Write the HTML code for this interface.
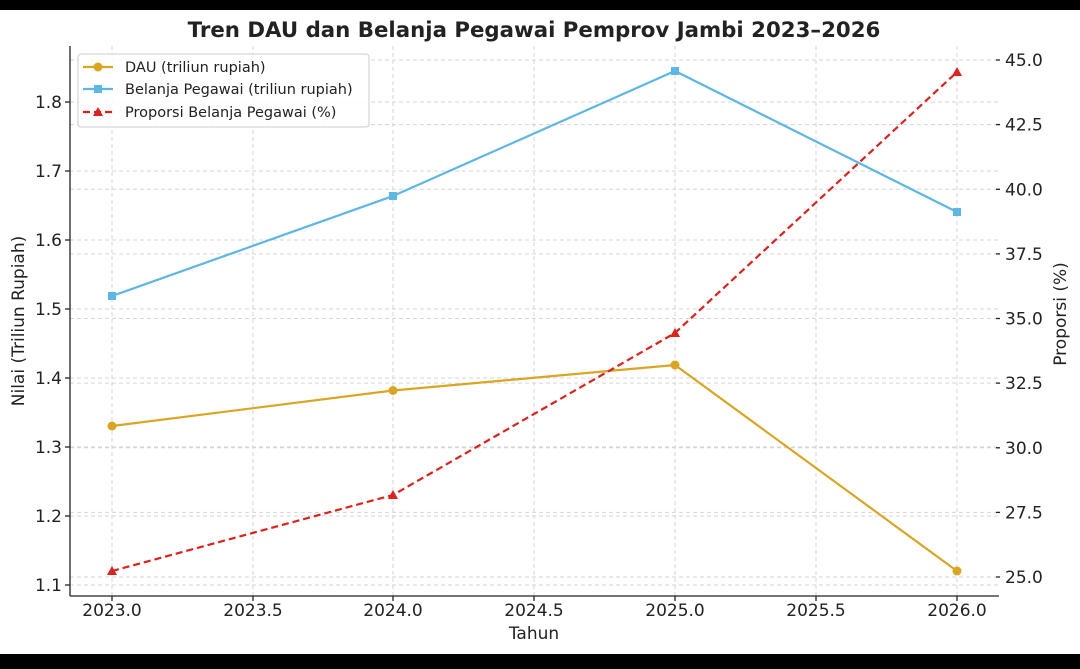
<!DOCTYPE html>
<html><head><meta charset="utf-8"><style>
html,body{margin:0;padding:0;background:#fff}
svg{display:block}
text{font-family:"DejaVu Sans","Liberation Sans",sans-serif;fill:#222}
</style></head><body>
<svg width="1080" height="669" viewBox="0 0 1080 669" xmlns="http://www.w3.org/2000/svg">
<rect x="0" y="0" width="1080" height="10" fill="#000"/>
<rect x="0" y="654" width="1080" height="15" fill="#000"/>
<text x="534" y="37" text-anchor="middle" font-size="21.3" font-weight="bold" fill="#333">Tren DAU dan Belanja Pegawai Pemprov Jambi 2023–2026</text>
<g stroke="#d6d6d6" stroke-width="1" stroke-dasharray="4,3" fill="none">
<line x1="112" y1="46" x2="112" y2="596"/><line x1="253" y1="46" x2="253" y2="596"/>
<line x1="393" y1="46" x2="393" y2="596"/><line x1="534" y1="46" x2="534" y2="596"/>
<line x1="675" y1="46" x2="675" y2="596"/><line x1="816" y1="46" x2="816" y2="596"/>
<line x1="957" y1="46" x2="957" y2="596"/>
<line x1="70" y1="102" x2="998" y2="102"/><line x1="70" y1="171" x2="998" y2="171"/>
<line x1="70" y1="240" x2="998" y2="240"/><line x1="70" y1="309" x2="998" y2="309"/>
<line x1="70" y1="378" x2="998" y2="378"/><line x1="70" y1="447" x2="998" y2="447"/>
<line x1="70" y1="516" x2="998" y2="516"/><line x1="70" y1="585" x2="998" y2="585"/>
<line x1="70" y1="60" x2="998" y2="60"/><line x1="70" y1="124.6" x2="998" y2="124.6"/>
<line x1="70" y1="189.3" x2="998" y2="189.3"/><line x1="70" y1="253.9" x2="998" y2="253.9"/>
<line x1="70" y1="318.5" x2="998" y2="318.5"/><line x1="70" y1="383.1" x2="998" y2="383.1"/>
<line x1="70" y1="447.8" x2="998" y2="447.8"/><line x1="70" y1="512.4" x2="998" y2="512.4"/>
<line x1="70" y1="577" x2="998" y2="577"/>
</g>
<g stroke="#222" stroke-width="1.3">
<line x1="70" y1="46" x2="70" y2="596"/>
<line x1="70" y1="596" x2="999" y2="596"/>
<line x1="65" y1="102" x2="70" y2="102"/><line x1="65" y1="171" x2="70" y2="171"/>
<line x1="65" y1="240" x2="70" y2="240"/><line x1="65" y1="309" x2="70" y2="309"/>
<line x1="65" y1="378" x2="70" y2="378"/><line x1="65" y1="447" x2="70" y2="447"/>
<line x1="65" y1="516" x2="70" y2="516"/><line x1="65" y1="585" x2="70" y2="585"/>
<line x1="112" y1="596" x2="112" y2="601"/><line x1="253" y1="596" x2="253" y2="601"/>
<line x1="393" y1="596" x2="393" y2="601"/><line x1="534" y1="596" x2="534" y2="601"/>
<line x1="675" y1="596" x2="675" y2="601"/><line x1="816" y1="596" x2="816" y2="601"/>
<line x1="957" y1="596" x2="957" y2="601"/>
<line x1="996" y1="60" x2="1000" y2="60"/><line x1="996" y1="124.6" x2="1000" y2="124.6"/>
<line x1="996" y1="189.3" x2="1000" y2="189.3"/><line x1="996" y1="253.9" x2="1000" y2="253.9"/>
<line x1="996" y1="318.5" x2="1000" y2="318.5"/><line x1="996" y1="383.1" x2="1000" y2="383.1"/>
<line x1="996" y1="447.8" x2="1000" y2="447.8"/><line x1="996" y1="512.4" x2="1000" y2="512.4"/>
<line x1="996" y1="577" x2="1000" y2="577"/>
</g>
<g font-size="17" text-anchor="end">
<text x="62" y="108">1.8</text><text x="62" y="177">1.7</text><text x="62" y="246">1.6</text>
<text x="62" y="315">1.5</text><text x="62" y="384">1.4</text><text x="62" y="453">1.3</text>
<text x="62" y="522">1.2</text><text x="62" y="591">1.1</text>
</g>
<g font-size="17">
<text x="1005" y="66">45.0</text><text x="1005" y="130.6">42.5</text><text x="1005" y="195.3">40.0</text>
<text x="1005" y="259.9">37.5</text><text x="1005" y="324.5">35.0</text><text x="1005" y="389.1">32.5</text>
<text x="1005" y="453.8">30.0</text><text x="1005" y="518.4">27.5</text><text x="1005" y="583">25.0</text>
</g>
<g font-size="17" text-anchor="middle">
<text x="112" y="616">2023.0</text><text x="253" y="616">2023.5</text><text x="393" y="616">2024.0</text>
<text x="534" y="616">2024.5</text><text x="675" y="616">2025.0</text><text x="816" y="616">2025.5</text>
<text x="957" y="616">2026.0</text>
<text x="534" y="639">Tahun</text>
</g>
<text font-size="17" text-anchor="middle" transform="translate(24,321) rotate(-90)">Nilai (Triliun Rupiah)</text>
<text font-size="17" text-anchor="middle" transform="translate(1066,314) rotate(-90)">Proporsi (%)</text>
<polyline points="112,426 393,390.5 675,365 957,571" fill="none" stroke="#DAA520" stroke-width="2.2"/>
<g fill="#DAA520"><circle cx="112" cy="426" r="4.5"/><circle cx="393" cy="390.5" r="4.5"/><circle cx="675" cy="365" r="4.5"/><circle cx="957" cy="571" r="4.5"/></g>
<polyline points="112,296 393,196 675,71 957,212" fill="none" stroke="#5DB7E5" stroke-width="2.2"/>
<g fill="#5DB7E5"><rect x="108" y="292" width="8" height="8"/><rect x="389" y="192" width="8" height="8"/><rect x="671" y="67" width="8" height="8"/><rect x="953" y="208" width="8" height="8"/></g>
<polyline points="112,571 393,495 675,333 957,72" fill="none" stroke="#E0201B" stroke-width="2.2" stroke-dasharray="7,4"/>
<g fill="#E0201B"><polygon points="112,566 117,575 107,575"/><polygon points="393,490 398,499 388,499"/><polygon points="675,328 680,337 670,337"/><polygon points="957,67 962,76 952,76"/></g>
<rect x="78" y="54" width="291" height="73" rx="3" fill="#fff" fill-opacity="0.85" stroke="#ccc"/>
<line x1="83" y1="67" x2="113" y2="67" stroke="#DAA520" stroke-width="2.2"/><circle cx="98" cy="67" r="4.5" fill="#DAA520"/>
<line x1="83" y1="89" x2="113" y2="89" stroke="#5DB7E5" stroke-width="2.2"/><rect x="94" y="85" width="8" height="8" fill="#5DB7E5"/>
<line x1="83" y1="112" x2="113" y2="112" stroke="#E0201B" stroke-width="2.2" stroke-dasharray="7,4"/><polygon points="98,107 103,116 93,116" fill="#E0201B"/>
<g font-size="14.5" fill="#333">
<text x="125" y="72">DAU (triliun rupiah)</text>
<text x="125" y="94">Belanja Pegawai (triliun rupiah)</text>
<text x="125" y="117">Proporsi Belanja Pegawai (%)</text>
</g>
</svg>
</body></html>
